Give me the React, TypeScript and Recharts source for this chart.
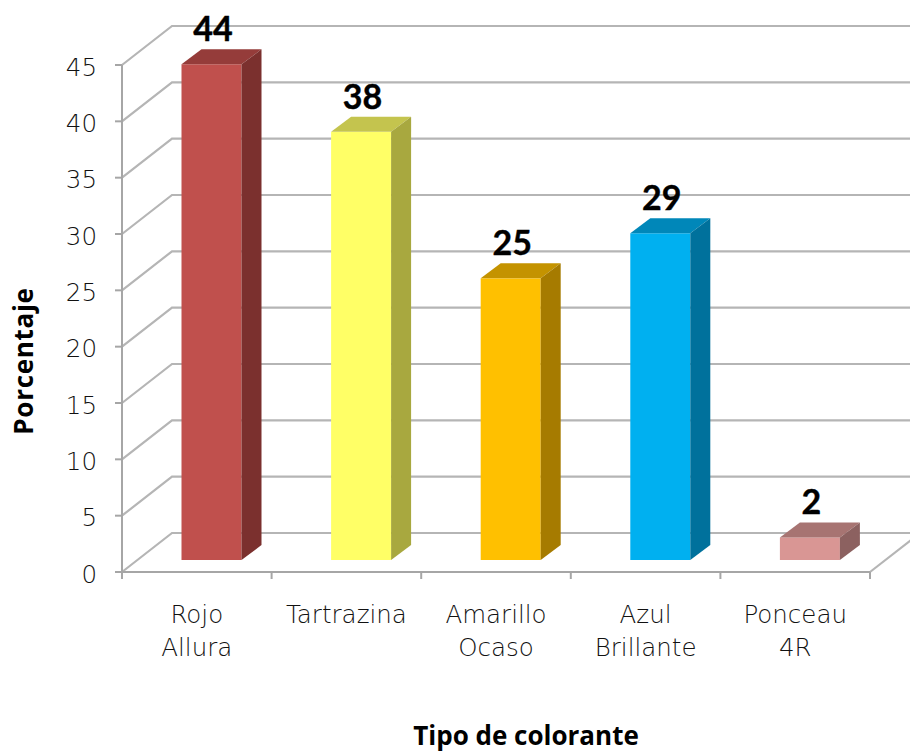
import React from 'react';
import { BarChart, Bar, XAxis, YAxis, CartesianGrid, LabelList, Label } from 'recharts';

const categories = ['Rojo Allura', 'Tartrazina', 'Amarillo Ocaso', 'Azul Brillante', 'Ponceau 4R'];
const percentages = [44, 38, 25, 29, 2];
const yTicks = [0, 5, 10, 15, 20, 25, 30, 35, 40, 45];

const frontColors = ['#C0504D', '#FFFF66', '#FFC000', '#00B0F0', '#D99694'];
const topColors = ['#953C3A', '#C4C44E', '#C49300', '#0087B9', '#A77472'];
const sideColors = ['#7B302E', '#A8A83F', '#A67B00', '#00719C', '#8C6160'];

const WIDTH = 910;
const HEIGHT = 751;
const PLOT_LEFT = 122;
const PLOT_RIGHT = 870;
const PLOT_TOP = 65;
const PLOT_BOTTOM = 572;
const BAND = (PLOT_RIGHT - PLOT_LEFT) / categories.length;

// 3D projection: depth of the walls and of the bars, and where the bars stand on the floor
const WALL_DX = 50;
const WALL_DY = 39;
const BAR_DX = 20;
const BAR_DY = 15;
const BAR_SHIFT_X = 14.5;
const BAR_SHIFT_Y = 12;

const GRID = '#B5B5B5';
const AXIS = '#A6A6A6';
const TICK_FONT = 'DejaVu Sans';
const TITLE_FONT = 'Open Sans';
const VALUE_FONT = 'Lato';

const data = categories.map((name, i) => ({ name, value: percentages[i] }));

const GridLine = (props: any) => {
  const { x1, x2, y1 } = props;
  const isFloor = Math.abs(y1 - PLOT_BOTTOM) < 1;
  return (
    <g fill="none" stroke={GRID} strokeWidth={2.2}>
      <polyline points={`${x1},${y1} ${x1 + WALL_DX},${y1 - WALL_DY} ${WIDTH},${y1 - WALL_DY}`} />
      {isFloor && <line x1={x2} y1={y1} x2={x2 + WALL_DX} y2={y1 - WALL_DY} />}
    </g>
  );
};

const Bar3D = (props: any) => {
  const { x, y, width, height, index } = props;
  const left = x + BAR_SHIFT_X;
  const right = left + width;
  const top = y - BAR_SHIFT_Y;
  const bottom = y + height - BAR_SHIFT_Y;
  return (
    <g>
      <rect x={left} y={top} width={width} height={height} fill={frontColors[index]} />
      <polygon
        points={`${left},${top} ${left + BAR_DX},${top - BAR_DY} ${right + BAR_DX},${top - BAR_DY} ${right},${top}`}
        fill={topColors[index]}
      />
      <polygon
        points={`${right},${top} ${right + BAR_DX},${top - BAR_DY} ${right + BAR_DX},${bottom - BAR_DY} ${right},${bottom}`}
        fill={sideColors[index]}
      />
    </g>
  );
};

const ValueLabel = (props: any) => {
  const { x, y, width, value } = props;
  return (
    <text
      x={x + width / 2 + BAR_SHIFT_X + 1.5}
      y={y - 35}
      textAnchor="middle"
      fontFamily={VALUE_FONT}
      fontWeight={700}
      fontSize={34}
      fill="#000"
      stroke="#000"
      strokeWidth={0.4}
    >
      {value}
    </text>
  );
};

// Category names wrap at the space; tick marks sit on the band edges
const CategoryTick = (props: any) => {
  const { x, index, payload } = props;
  const lines = String(payload.value).split(' ');
  const edge = x - BAND / 2;
  return (
    <g>
      <line x1={edge} y1={PLOT_BOTTOM} x2={edge} y2={PLOT_BOTTOM + 7} stroke={AXIS} strokeWidth={2} />
      {index === categories.length - 1 && (
        <line x1={edge + BAND} y1={PLOT_BOTTOM} x2={edge + BAND} y2={PLOT_BOTTOM + 7} stroke={AXIS} strokeWidth={2} />
      )}
      <text textAnchor="middle" fontFamily={TICK_FONT} fontWeight={200} fontSize={24.5} fill="#111">
        {lines.map((line, i) => (
          <tspan key={line} x={x} y={623 + i * 32.5}>
            {line}
          </tspan>
        ))}
      </text>
    </g>
  );
};

const XTitle = () => (
  <text x={526} y={744.5} textAnchor="middle" fontFamily={TITLE_FONT} fontWeight={700} fontSize={26} fill="#000">
    Tipo de colorante
  </text>
);

const YTitle = () => (
  <text
    transform="rotate(-90 33 361)"
    x={33}
    y={361}
    textAnchor="middle"
    fontFamily={TITLE_FONT}
    fontWeight={700}
    fontSize={26}
    letterSpacing={0.7}
    fill="#000"
  >
    Porcentaje
  </text>
);

const App: React.FC = () => {
  return (
    <div style={{ position: 'absolute', left: 0, top: 0, width: WIDTH, height: HEIGHT }}>
      <BarChart
        width={WIDTH}
        height={HEIGHT}
        data={data}
        margin={{ top: PLOT_TOP, right: WIDTH - PLOT_RIGHT, bottom: 0, left: 0 }}
        barSize={60}
      >
        <CartesianGrid vertical={false} horizontal={GridLine} />
        <XAxis
          dataKey="name"
          height={HEIGHT - PLOT_BOTTOM}
          interval={0}
          axisLine={{ stroke: AXIS, strokeWidth: 2 }}
          tickLine={false}
          tick={CategoryTick}
        >
          <Label content={XTitle} />
        </XAxis>
        <YAxis
          type="number"
          domain={[0, 45]}
          ticks={yTicks}
          interval={0}
          width={PLOT_LEFT}
          axisLine={{ stroke: AXIS, strokeWidth: 2 }}
          tickLine={{ stroke: AXIS, strokeWidth: 2 }}
          tickSize={7}
          tickMargin={18}
          tick={{ fontFamily: TICK_FONT, fontWeight: 200, fontSize: 24.5, fill: '#111', dy: 2 }}
        >
          <Label content={YTitle} />
        </YAxis>
        <Bar dataKey="value" shape={Bar3D} isAnimationActive={false}>
          <LabelList dataKey="value" content={ValueLabel} />
        </Bar>
      </BarChart>
    </div>
  );
};

export default App;
